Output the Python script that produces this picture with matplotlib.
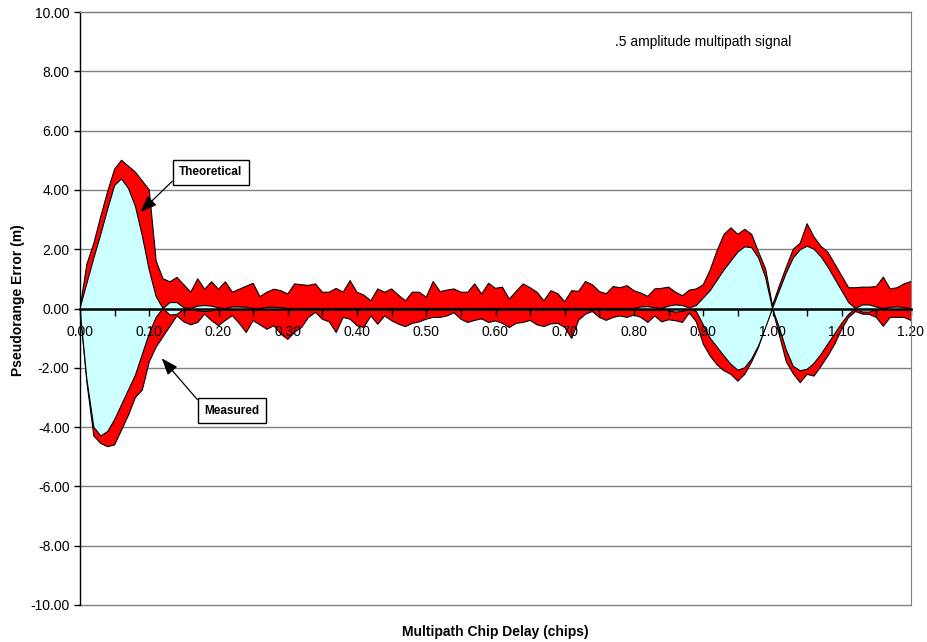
import numpy as np
import matplotlib
matplotlib.use('Agg')
import matplotlib.pyplot as plt

plt.rcParams['font.family'] = ['Liberation Sans', 'DejaVu Sans']

# chip delay, sampled every 0.01 chip
delay = np.linspace(0.0, 1.2, 121)

# measured error envelope (m)
meas_hi = [0.0, 1.5, 2.2, 3.1, 3.95, 4.7, 5.0, 4.8, 4.6, 4.3,
           4.0, 1.6, 1.0, 0.9, 1.05, 0.8, 0.55, 1.0, 0.65, 0.9,
           0.65, 0.9, 0.55, 0.65, 0.75, 0.85, 0.4, 0.55, 0.65, 0.6,
           0.49, 0.83, 0.8, 0.78, 0.83, 0.55, 0.55, 0.68, 0.55, 0.94,
           0.55, 0.45, 0.26, 0.66, 0.55, 0.66, 0.45, 0.26, 0.55, 0.55,
           0.38, 0.91, 0.57, 0.62, 0.66, 0.55, 0.55, 0.83, 0.49, 0.85,
           0.68, 0.72, 0.32, 0.58, 0.83, 0.7, 0.55, 0.26, 0.6, 0.5,
           0.23, 0.6, 0.58, 0.91, 0.8, 0.57, 0.5, 0.74, 0.7, 0.77,
           0.6, 0.52, 0.41, 0.66, 0.68, 0.72, 0.55, 0.43, 0.62, 0.66,
           0.8, 1.3, 1.95, 2.5, 2.72, 2.5, 2.67, 2.5, 1.9, 1.34,
           0.1, 0.77, 1.4, 2.0, 2.2, 2.86, 2.41, 2.1, 1.9, 1.5,
           1.1, 0.7, 0.7, 0.72, 0.72, 0.74, 1.06, 0.66, 0.7, 0.83,
           0.91]
meas_lo = [0.0, -2.5, -4.3, -4.55, -4.66, -4.6, -4.1, -3.6, -3.0, -2.75,
           -1.8, -1.3, -0.95, -0.6, -0.25, -0.45, -0.55, -0.47, -0.19, -0.41,
           -0.58, -0.4, -0.24, -0.5, -0.81, -0.41, -0.55, -0.7, -0.58, -0.86,
           -1.04, -0.8, -0.64, -0.3, -0.13, -0.36, -0.45, -0.81, -0.3, -0.36,
           -0.58, -0.64, -0.25, -0.53, -0.25, -0.41, -0.53, -0.61, -0.5, -0.45,
           -0.36, -0.3, -0.3, -0.25, -0.14, -0.36, -0.47, -0.4, -0.35, -0.47,
           -0.42, -0.5, -0.64, -0.5, -0.47, -0.4, -0.55, -0.61, -0.52, -0.5,
           -0.64, -1.01, -0.4, -0.19, -0.1, -0.3, -0.4, -0.3, -0.25, -0.3,
           -0.22, -0.3, -0.47, -0.25, -0.45, -0.38, -0.41, -0.47, -0.15, -0.45,
           -1.2, -1.6, -1.9, -2.1, -2.22, -2.45, -2.22, -1.8, -1.3, -0.6,
           0.0, -0.9, -1.8, -2.2, -2.5, -2.22, -2.28, -1.95, -1.6, -1.2,
           -0.7, -0.3, -0.1, -0.19, -0.2, -0.3, -0.6, -0.3, -0.3, -0.3,
           -0.4]

# theoretical error envelope (m)
theo_hi = [0.0, 0.85, 1.7, 2.5, 3.35, 4.15, 4.37, 4.05, 3.45, 2.45,
           1.3, 0.4, 0.0, 0.2, 0.2, 0.03, 0.0, 0.08, 0.1, 0.08,
           0.02, 0.0, 0.05, 0.05, 0.04, 0.0, 0.0, 0.04, 0.04, 0.03,
           0.0, 0.0, 0.0, 0.0, 0.0, 0.0, 0.0, 0.0, 0.0, 0.0,
           0.0, 0.0, 0.0, 0.0, 0.0, 0.0, 0.0, 0.0, 0.0, 0.0,
           0.0, 0.0, 0.0, 0.0, 0.0, 0.0, 0.0, 0.0, 0.0, 0.0,
           0.0, 0.0, 0.0, 0.0, 0.0, 0.0, 0.0, 0.0, 0.0, 0.0,
           0.0, 0.0, 0.0, 0.0, 0.0, 0.0, 0.0, 0.0, 0.0, 0.0,
           0.0, 0.05, 0.06, 0.03, 0.0, 0.08, 0.12, 0.1, 0.02, 0.1,
           0.35, 0.6, 0.95, 1.3, 1.6, 1.9, 2.08, 2.05, 1.7, 1.05,
           0.0, 0.6, 1.2, 1.7, 1.98, 2.1, 2.0, 1.75, 1.4, 1.0,
           0.6, 0.2, 0.0, 0.12, 0.12, 0.05, 0.0, 0.04, 0.05, 0.03,
           0.0]
theo_lo = [0.0, -2.4, -4.0, -4.3, -4.15, -3.75, -3.25, -2.75, -2.25, -1.55,
           -0.85, -0.3, 0.0, -0.22, -0.2, -0.03, 0.0, -0.08, -0.1, -0.08,
           -0.02, 0.0, -0.05, -0.05, -0.04, 0.0, 0.0, -0.04, -0.04, -0.03,
           0.0, 0.0, 0.0, 0.0, 0.0, 0.0, 0.0, 0.0, 0.0, 0.0,
           0.0, 0.0, 0.0, 0.0, 0.0, 0.0, 0.0, 0.0, 0.0, 0.0,
           0.0, 0.0, 0.0, 0.0, 0.0, 0.0, 0.0, 0.0, 0.0, 0.0,
           0.0, 0.0, 0.0, 0.0, 0.0, 0.0, 0.0, 0.0, 0.0, 0.0,
           0.0, 0.0, 0.0, 0.0, 0.0, 0.0, 0.0, 0.0, 0.0, 0.0,
           0.0, -0.05, -0.06, -0.03, 0.0, -0.08, -0.12, -0.1, -0.02, -0.1,
           -0.55, -1.0, -1.3, -1.6, -1.88, -2.08, -2.0, -1.7, -1.25, -0.65,
           0.0, -0.65, -1.4, -1.95, -2.1, -2.05, -1.85, -1.55, -1.2, -0.85,
           -0.5, -0.2, 0.0, -0.12, -0.12, -0.05, 0.0, -0.04, -0.05, -0.03,
           0.0]

fig = plt.figure(figsize=(9.27, 6.42), dpi=100)
ax = fig.add_axes([80 / 927, 1 - 605 / 642, 831 / 927, 593 / 642])

ax.set_xlim(0, 1.2)
ax.set_ylim(-10, 10)

yt = np.arange(-10, 11, 2)

# gray gridlines sit under the bands
for v in yt:
    ax.axhline(v, color='#808080', lw=1, zorder=0.5, clip_on=False)

# measured band, then theoretical band on top
ax.fill_between(delay, meas_lo, meas_hi, facecolor='#ff0000', linewidth=0, zorder=1)
ax.plot(delay, meas_hi, color='black', lw=0.8, zorder=1.2)
ax.plot(delay, meas_lo, color='black', lw=0.8, zorder=1.2)
ax.fill_between(delay, theo_lo, theo_hi, facecolor='#ccffff', linewidth=0, zorder=1.4)
ax.plot(delay, theo_hi, color='black', lw=0.8, zorder=1.6)
ax.plot(delay, theo_lo, color='black', lw=0.8, zorder=1.6)

ax.set_yticks(yt)
ax.set_yticklabels([f'{v:.2f}' for v in yt], fontsize=10)
ax.tick_params(axis='y', direction='out', length=4, width=1, pad=3.5)

xt = np.round(np.arange(0, 1.201, 0.05), 2)
ax.set_xticks(xt)
ax.set_xticklabels([f'{v:.2f}' if i % 2 == 0 else '' for i, v in enumerate(xt)], fontsize=10)
ax.tick_params(axis='x', direction='out', length=5, width=1, pad=7)

ax.spines['bottom'].set_position(('data', 0))
ax.spines['bottom'].set_linewidth(1.8)
ax.spines['left'].set_linewidth(1)
ax.spines['top'].set_color('#808080')
ax.spines['right'].set_color('#808080')

box = dict(boxstyle='square,pad=0.55', fc='white', ec='black', lw=1)
arrow = dict(arrowstyle='-|>,head_length=1.2,head_width=0.45', color='black', lw=0.9,
             shrinkA=0, shrinkB=0)
ax.annotate('Theoretical', xy=(0.087, 3.25), xytext=(0.189, 4.6),
            fontsize=8.5, fontweight='bold', ha='center', va='center', bbox=box,
            arrowprops=dict(arrow, relpos=(0, 0.3)), zorder=5)
ax.annotate('Measured', xy=(0.118, -1.68), xytext=(0.2195, -3.45),
            fontsize=8.5, fontweight='bold', ha='center', va='center', bbox=box,
            arrowprops=dict(arrow, relpos=(0, 0.75)), zorder=5)

ax.text(0.9, 9.0, '.5 amplitude multipath signal', fontsize=10, ha='center', va='center')

fig.text(18 / 927, 1 - 300 / 642, 'Pseudorange Error (m)', rotation=90,
         fontsize=10, fontweight='bold', ha='center', va='center')
fig.text(495 / 927, 1 - 632 / 642, 'Multipath Chip Delay (chips)',
         fontsize=10, fontweight='bold', ha='center', va='center')

fig.savefig('out.png', dpi=100)
